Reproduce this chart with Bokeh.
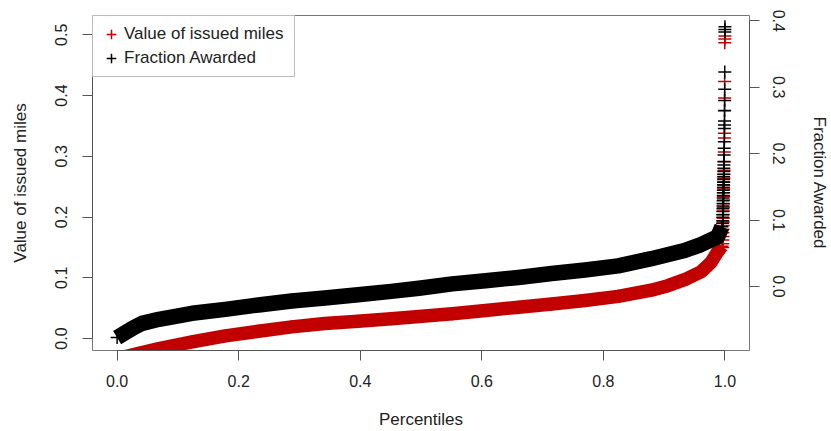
from bokeh.plotting import figure
from bokeh.models import (Range1d, LinearAxis, FixedTicker, PrintfTickFormatter,
                          Legend, LegendItem)
from bokeh.embed import file_html
from bokeh.resources import INLINE

# ---- data ----
pct_red = [0.0, 0.0139, 0.041, 0.0688, 0.1233, 0.1779, 0.2325, 0.2871, 0.3417, 0.3963,
           0.4509, 0.4967, 0.5513, 0.606, 0.6605, 0.715, 0.7697, 0.8243, 0.8788, 0.9062,
           0.9335, 0.9607, 0.977, 0.988, 0.995]
val_red = [-0.06, -0.0295, -0.023, -0.0164, -0.0054, 0.0044, 0.012, 0.0192, 0.0246,
           0.0284, 0.0325, 0.0362, 0.0408, 0.0462, 0.0516, 0.0568, 0.0625, 0.0694,
           0.0795, 0.087, 0.0968, 0.11, 0.1251, 0.1428, 0.152]

pct_black = [0.0, 0.0142, 0.028, 0.041, 0.0688, 0.1233, 0.1779, 0.2325, 0.2871, 0.3417,
             0.3963, 0.4509, 0.4967, 0.5513, 0.606, 0.6605, 0.715, 0.7697, 0.8243, 0.8788,
             0.9335, 0.9607, 0.988, 0.995]
frac_black = [-0.077, -0.0692, -0.0616, -0.0556, -0.0495, -0.0405, -0.0345, -0.0279,
              -0.0219, -0.0174, -0.0125, -0.0075, -0.0028, 0.0038, 0.0085, 0.0135, 0.0195,
              0.0247, 0.031, 0.0418, 0.054, 0.063, 0.0746, 0.09]

tail_pct_red = [0.9963, 0.9964, 0.9965, 0.9966, 0.9967, 0.9968, 0.9969, 0.9970, 0.9971,
                0.9972, 0.9973, 0.9974, 0.9975, 0.9976, 0.9977, 0.9978, 0.9979, 0.9980,
                0.9981, 0.9982, 0.9983, 0.9985, 0.9987, 0.9989, 0.9991, 0.9992, 0.9993,
                0.9994, 0.9995, 0.9997, 0.9998, 1.0]
tail_val_red = [0.150, 0.156, 0.162, 0.168, 0.174, 0.180, 0.186, 0.192, 0.198, 0.204,
                0.210, 0.216, 0.222, 0.228, 0.234, 0.240, 0.246, 0.252, 0.258, 0.264,
                0.270, 0.277, 0.291, 0.307, 0.330, 0.338, 0.375, 0.396, 0.423, 0.487,
                0.493, 0.498]

tail_pct_black = [0.9962, 0.9963, 0.9964, 0.9965, 0.9966, 0.9967, 0.9968, 0.9969, 0.9970,
                  0.9971, 0.9972, 0.9973, 0.9974, 0.9975, 0.9976, 0.9977, 0.9978, 0.9979,
                  0.9980, 0.9981, 0.9982, 0.9983, 0.9984, 0.9986, 0.9988, 0.9990, 0.9991,
                  0.9992, 0.9993, 0.9994, 0.9995, 0.9996, 0.9997, 0.9998, 0.9999, 1.0]
tail_frac_black = [0.095, 0.099, 0.104, 0.108, 0.113, 0.117, 0.121, 0.125, 0.129, 0.133,
                   0.137, 0.141, 0.145, 0.149, 0.153, 0.157, 0.161, 0.165, 0.169, 0.173,
                   0.178, 0.183, 0.188, 0.198, 0.208, 0.218, 0.238, 0.243, 0.249, 0.265,
                   0.280, 0.297, 0.323, 0.383, 0.387, 0.391]

x_ticks = [0.0, 0.2, 0.4, 0.6, 0.8, 1.0]
left_ticks = [0.0, 0.1, 0.2, 0.3, 0.4, 0.5]
right_ticks = [0.0, 0.1, 0.2, 0.3, 0.4]

RED = "#C20000"
BLACK = "#000000"
FONT = "Liberation Sans"
AXC = "#555555"
TXT = "#222222"

p = figure(width=831, height=431, output_backend="svg", toolbar_location=None,
           x_range=Range1d(-0.0405, 1.0404), y_range=Range1d(-0.0197, 0.5317),
           min_border_left=92, min_border_right=80, min_border_top=15, min_border_bottom=80,
           x_axis_label="Percentiles", y_axis_label="Value of issued miles")
p.extra_y_ranges = {"frac": Range1d(-0.0965, 0.408)}
p.grid.visible = False
p.outline_line_color = "#777777"
p.outline_line_width = 1
p.background_fill_color = "white"
p.border_fill_color = "white"

# bands (dense percentile points) drawn as thick strokes plus cross markers
p.line(pct_red, val_red, line_width=13.5, color=RED, line_cap="butt", line_join="round")
p.scatter(pct_red, val_red, marker="cross", size=13, line_color=RED, line_width=1.5)
r_red = p.scatter(tail_pct_red, tail_val_red, marker="cross", size=13, line_color=RED,
                  line_width=1.5)

p.line(pct_black, frac_black, line_width=15.5, color=BLACK, line_cap="butt",
       line_join="round", y_range_name="frac")
p.scatter(pct_black, frac_black, marker="cross", size=13, line_color=BLACK,
          line_width=1.5, y_range_name="frac")
r_black = p.scatter(tail_pct_black, tail_frac_black, marker="cross", size=13,
                    line_color=BLACK, line_width=1.5, y_range_name="frac")


def style_axis(ax, ticks, bounds, vertical):
    ax.ticker = FixedTicker(ticks=ticks)
    ax.formatter = PrintfTickFormatter(format="%.1f")
    ax.bounds = bounds
    ax.axis_line_color = AXC
    ax.major_tick_line_color = AXC
    ax.major_tick_out = 10
    ax.major_tick_in = 0
    ax.minor_tick_out = 0
    ax.minor_tick_in = 0
    ax.major_label_text_font = FONT
    ax.major_label_text_font_size = "16px"
    ax.major_label_text_color = TXT
    ax.axis_label_text_font = FONT
    ax.axis_label_text_font_size = "17px"
    ax.axis_label_text_font_style = "normal"
    ax.axis_label_text_color = TXT
    if vertical:
        ax.major_label_orientation = "vertical"


xa = p.xaxis[0]
style_axis(xa, x_ticks, (0, 1), False)
xa.major_label_standoff = 14
xa.axis_label_standoff = 20

ya = p.yaxis[0]
style_axis(ya, left_ticks, (0, 0.5), True)
ya.major_label_standoff = 15
ya.axis_label_standoff = 23

ra = LinearAxis(y_range_name="frac", axis_label="Fraction Awarded")
style_axis(ra, right_ticks, (0, 0.4), True)
ra.major_label_standoff = 13
ra.axis_label_standoff = 22
p.add_layout(ra, "right")

legend = Legend(items=[LegendItem(label="Value of issued miles", renderers=[r_red]),
                       LegendItem(label="Fraction Awarded", renderers=[r_black])],
                location="top_left")
legend.margin = 0
legend.padding = 6
legend.spacing = 0
legend.glyph_width = 24
legend.glyph_height = 24
legend.label_height = 24
legend.label_width = 164
legend.label_standoff = 1
legend.label_text_font = FONT
legend.label_text_font_size = "17px"
legend.label_text_color = TXT
legend.border_line_color = "#777777"
legend.border_line_width = 1
legend.background_fill_color = "white"
legend.background_fill_alpha = 1.0
p.add_layout(legend)

open("out.html", "w").write(file_html(p, INLINE))
